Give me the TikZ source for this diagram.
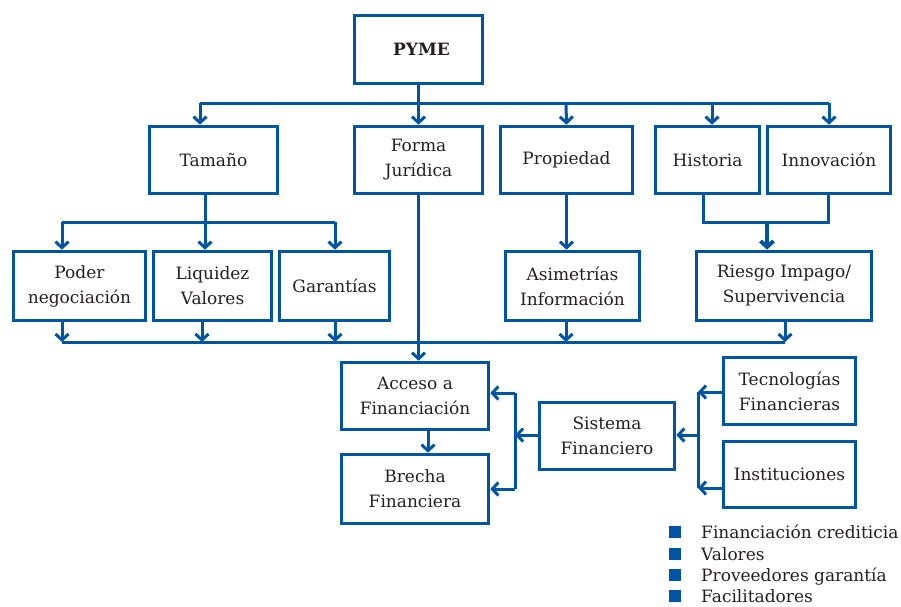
\documentclass[tikz,border=0pt]{standalone}
\usepackage{fontspec}
\setmainfont{DejaVu Serif}
\usetikzlibrary{arrows.meta}
\definecolor{bl}{RGB}{0,84,164}
\definecolor{tx}{RGB}{35,31,32}
\begin{document}
\begin{tikzpicture}[x=1pt,y=-1pt,
  box/.style={draw=bl,line width=3.6pt,rectangle,inner sep=0pt,align=center,text=tx,
    font=\fontsize{17}{25}\selectfont},
  conn/.style={draw=bl,line width=3pt},
  arr/.style={conn,-{Straight Barb[length=6pt,width=13pt]}},
  leg/.style={text=tx,font=\fontsize{17}{22}\selectfont,anchor=base west,inner sep=0pt},
  sq/.style={fill=bl,minimum size=12.5pt,inner sep=0pt}]
\useasboundingbox (0,0) rectangle (901,606);
% nodes
\node[box,minimum width=128pt,minimum height=68pt] (pyme) at (418.5,49.5) {\hspace*{6pt}\textbf{PYME}};
\node[box,minimum width=128pt,minimum height=67pt] (tam) at (213.5,160) {Tamaño};
\node[box,minimum width=128pt,minimum height=67pt] (forma) at (418.5,160) {Forma\\Jurídica};
\node[box,minimum width=132pt,minimum height=67pt] (prop) at (566.5,160) {Propiedad};
\node[box,minimum width=104pt,minimum height=67pt] (hist) at (707.5,160) {Historia};
\node[box,minimum width=123pt,minimum height=67pt] (innov) at (829,160) {Innovación};
\node[box,minimum width=132pt,minimum height=69pt] (poder) at (79.5,286) {Poder\\negociación};
\node[box,minimum width=118pt,minimum height=69pt] (liq) at (212.5,286) {Liquidez\\Valores};
\node[box,minimum width=110pt,minimum height=69pt] (gar) at (334.5,286) {Garantías};
\node[box,minimum width=134pt,minimum height=69pt] (asim) at (572.5,286) {Asimetrías\\Información};
\node[box,minimum width=175pt,minimum height=69pt] (riesgo) at (784,286) {Riesgo Impago/\\Supervivencia};
\node[box,minimum width=147pt,minimum height=67pt] (acceso) at (415,396) {Acceso a\\Financiación};
\node[box,minimum width=147pt,minimum height=69pt] (brecha) at (415,489) {Brecha\\Financiera};
\node[box,minimum width=135pt,minimum height=67pt] (sist) at (607,436) {Sistema\\Financiero};
\node[box,minimum width=132pt,minimum height=67pt] (tec) at (789.5,391) {Tecnologías\\Financieras};
\node[box,minimum width=132pt,minimum height=66pt] (inst) at (789.5,474.5) {Instituciones};
% legend
\node[sq] (s1) at (675,532) {};
\node[sq] (s2) at (675,554) {};
\node[sq] (s3) at (675,575) {};
\node[sq] (s4) at (675,596) {};
\node[leg] (l1) at (701,538) {Financiación crediticia};
\node[leg] (l2) at (701,560) {Valores};
\node[leg] (l3) at (701,581) {Proveedores garantía};
\node[leg] (l4) at (701,602) {Facilitadores};
% top bus
\coordinate (t1) at (200,103);
\coordinate (t2) at (712,103);
\coordinate (t3) at (829,103);
\coordinate (t4) at (566,103);
\draw[conn] (t1) -- (t3);
\draw[arr] (pyme.south) -- (forma.north);
\draw[arr] (t1) -- (t1 |- tam.north);
\draw[arr] (t4) -- (prop.north);
\draw[arr] (t2) -- (t2 |- hist.north);
\draw[arr] (t3) -- (innov.north);
% tamaño bus
\coordinate (m0) at (205,222);
\coordinate (m1) at (62,222);
\coordinate (m3) at (335,222);
\draw[conn] (m1) -- (m3);
\draw[arr] (m0 |- tam.south) -- (m0 |- liq.north);
\draw[arr] (m1) -- (m1 |- poder.north);
\draw[arr] (m3) -- (m3 |- gar.north);
% historia / innovacion
\coordinate (h1) at (703,222);
\coordinate (h2) at (828,222);
\coordinate (h0) at (767,222);
\draw[conn] (h1 |- hist.south) -- (h1) -- (h2) -- (h2 |- innov.south);
\draw[arr,line width=4pt] (h0) -- (h0 |- riesgo.north);
% propiedad
\draw[arr] (prop.south) -- (prop.south |- asim.north);
% forma
\draw[arr] (forma.south) -- (forma.south |- acceso.north);
% bottom bus
\coordinate (u1) at (62,342);
\coordinate (u2) at (202,342);
\coordinate (u3) at (335,342);
\coordinate (u4) at (566,342);
\coordinate (u5) at (785,342);
\draw[conn] (u1) -- (u5);
\draw[arr] (u1 |- poder.south) -- (u1);
\draw[arr] (u2 |- liq.south) -- (u2);
\draw[arr] (u3 |- gar.south) -- (u3);
\draw[arr] (u4 |- asim.south) -- (u4);
\draw[arr] (u5 |- riesgo.south) -- (u5);
% acceso -> brecha
\coordinate (ab) at (428,431);
\draw[arr] (ab |- acceso.south) -- (ab |- brecha.north);
% left bracket
\coordinate (k1) at (515,393);
\coordinate (k2) at (515,489);
\coordinate (k0) at (515,435);
\draw[conn] (k1) -- (k2);
\draw[arr] (k1) -- (k1 -| acceso.east);
\draw[arr] (k2) -- (k2 -| brecha.east);
\draw[arr] (k0 -| sist.west) -- (k0);
% right bracket
\coordinate (r1) at (698,392);
\coordinate (r2) at (698,488);
\coordinate (r0) at (698,435);
\draw[conn] (r1) -- (r2);
\draw[arr] (r1 -| tec.west) -- (r1);
\draw[arr] (r2 -| inst.west) -- (r2);
\draw[arr] (r0) -- (r0 -| sist.east);
\end{tikzpicture}
\end{document}
